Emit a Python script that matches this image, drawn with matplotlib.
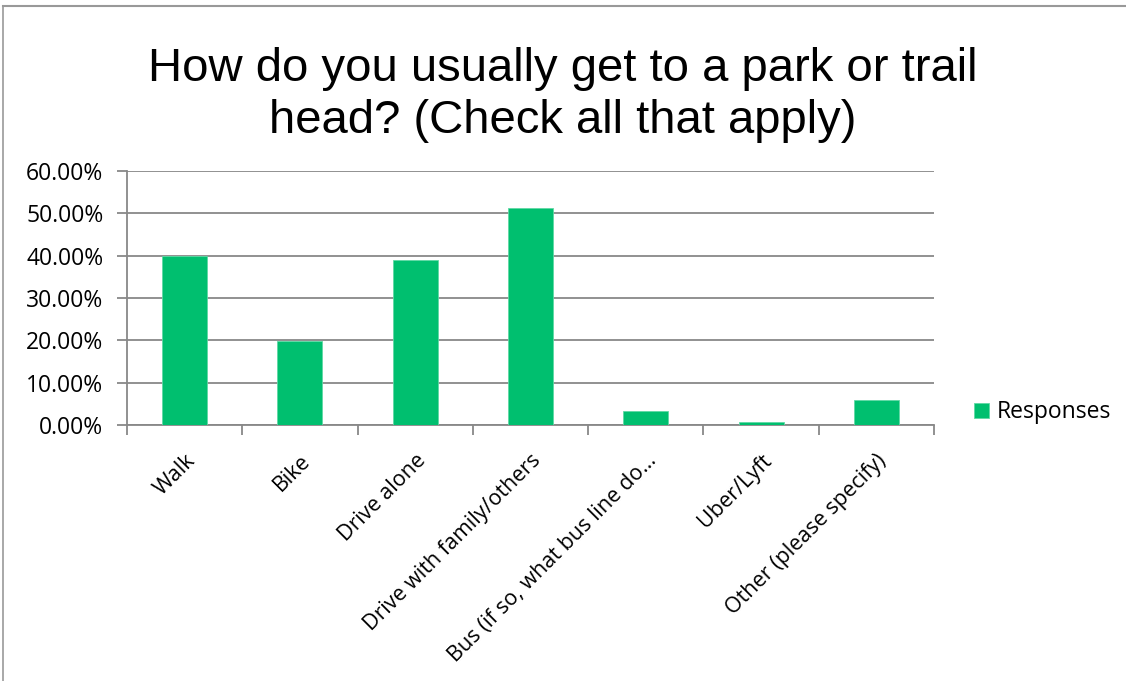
import matplotlib
matplotlib.use("Agg")
import matplotlib.pyplot as plt
from matplotlib.lines import Line2D
from matplotlib.ticker import FuncFormatter, FixedLocator

categories = ["Walk", "Bike", "Drive alone", "Drive with family/others",
              "Bus (if so, what bus line do\u2026", "Uber/Lyft", "Other (please specify)"]
responses = [40.0, 19.8, 39.0, 51.3, 3.2, 0.8, 5.8]
yticks = [0, 10, 20, 30, 40, 50, 60]
title = "How do you usually get to a park or trail\nhead? (Check all that apply)"
series_name = "Responses"

W, H = 1126, 681
fig = plt.figure(figsize=(W / 100, H / 100), dpi=100)
ax = fig.add_axes([127 / W, 1 - 425 / H, (934 - 127) / W, (425 - 171) / H])

green = "#00BF6F"
grid_c = "#888888"
x = list(range(len(categories)))
ax.bar(x, responses, width=0.39, color=green, edgecolor="#5fd9a5", linewidth=0.6,
       label=series_name, zorder=3)

ax.set_xlim(-0.5, len(categories) - 0.5)
ax.set_ylim(0, 60)
ax.set_yticks(yticks)
ax.yaxis.set_major_formatter(FuncFormatter(lambda v, p: f"{v:.2f}%"))
ax.grid(axis="y", color=grid_c, linewidth=1.3, zorder=0)
for s in ["top", "right"]:
    ax.spines[s].set_visible(False)
for s in ["left", "bottom"]:
    ax.spines[s].set_color(grid_c)
    ax.spines[s].set_linewidth(1.3)

tick_font = "Open Sans"
ax.tick_params(axis="y", length=7, width=1.3, color=grid_c, labelsize=16.5, pad=10)
for lab in ax.get_yticklabels():
    lab.set_fontfamily(tick_font)

ax.set_xticks(x)
ax.set_xticklabels(categories, rotation=45, ha="right", rotation_mode="anchor",
                   fontsize=15.5, fontfamily=tick_font)
ax.tick_params(axis="x", which="major", length=0, pad=18)
ax.xaxis.set_minor_locator(FixedLocator([i - 0.5 for i in range(len(categories) + 1)]))
ax.tick_params(axis="x", which="minor", length=7, width=1.3, color=grid_c)

fig.text(0.5, 1 - 95 / H, title, ha="center", va="center", fontsize=34,
         fontfamily="Liberation Sans", linespacing=1.25)

leg = ax.legend(loc="center left", bbox_to_anchor=(1.024, 0.05), frameon=False,
                prop={"family": tick_font, "size": 16.5}, handlelength=0.65,
                handleheight=0.65, handletextpad=0.35)

frame_c = "#999999"
fig.add_artist(Line2D([3 / W, 1.0], [1 - 6 / H, 1 - 6 / H], transform=fig.transFigure,
                      color=frame_c, linewidth=1.5))
fig.add_artist(Line2D([3 / W, 3 / W], [0, 1 - 6 / H], transform=fig.transFigure,
                      color=frame_c, linewidth=1.2))

fig.savefig("out.png", dpi=100)
